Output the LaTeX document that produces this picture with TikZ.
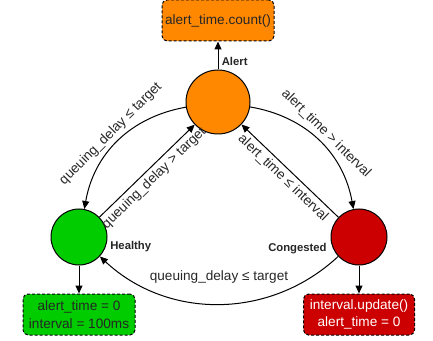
\documentclass[tikz,border=0pt]{standalone}
\usepackage{fontspec}
\setmainfont{Liberation Sans}
\usetikzlibrary{arrows.meta, positioning}

\definecolor{alertorange}{RGB}{255,136,0}
\definecolor{healthygreen}{RGB}{0,204,0}
\definecolor{congestedred}{RGB}{204,0,0}

\begin{document}
\begin{tikzpicture}[
  x=1pt, y=1pt,
  >={Triangle[length=8pt, width=7pt]},
  every node/.style={font=\fontsize{13.6}{17.5}\selectfont, text=black!85},
  state/.style={circle, draw=black, line width=1pt, minimum size=56pt, inner sep=0pt},
  action/.style={rectangle, draw=black, line width=1pt, dash pattern=on 3pt off 2pt,
             rounded corners=5pt, minimum width=112pt, minimum height=41pt,
             inner xsep=1pt, align=center},
  arrow/.style={->, line width=1pt},
  lab/.style={font=\bfseries\fontsize{11.3}{13}\selectfont, text=black!85}
]
\useasboundingbox (0,0) rectangle (433,340);

% States
\node[state, fill=alertorange, minimum size=64pt] (alert) at (218,238) {};
\node[state, fill=healthygreen] (healthy) at (79,103) {};
\node[state, fill=congestedred] (congested) at (359,103) {};

% Actions
\node[action, fill=alertorange, above=28pt of alert] (alertbox) {alert\_time.count()};
\node[action, fill=healthygreen, below=28pt of healthy] (healthybox)
  {alert\_time = 0\\interval = 100ms};
\node[action, fill=congestedred, minimum width=111pt, below=28pt of congested,
  text=white] (congbox) {interval.update()\\alert\_time = 0};

% State labels
\node[lab, right=1pt of healthy.-20] (healthylab) {Healthy};
\node[lab, left=3pt of congested.205] (conglab) {Congested};

% Arrows to actions
\draw[arrow] (alert.north) -- node[lab, right, pos=0.3] {Alert} (alertbox.south);
\draw[arrow] (healthy.south) -- (healthybox.north);
\draw[arrow] (congested.south) -- (congbox.north);

% Transitions
\draw[arrow] (alert) to[bend right=35]
  node[sloped, above] {queuing\_delay ≤ target} (healthy);
\draw[arrow] (healthy) -- node[sloped, below] {queuing\_delay > target} (alert);
\draw[arrow] (alert) to[bend left=35]
  node[sloped, above] {alert\_time > interval} (congested);
\draw[arrow] (congested) -- node[sloped, below] {alert\_time ≤ interval} (alert);
\draw[arrow] (congested) to[bend left=43]
  node[above=17pt] {queuing\_delay ≤ target} (healthy);

\end{tikzpicture}
\end{document}
